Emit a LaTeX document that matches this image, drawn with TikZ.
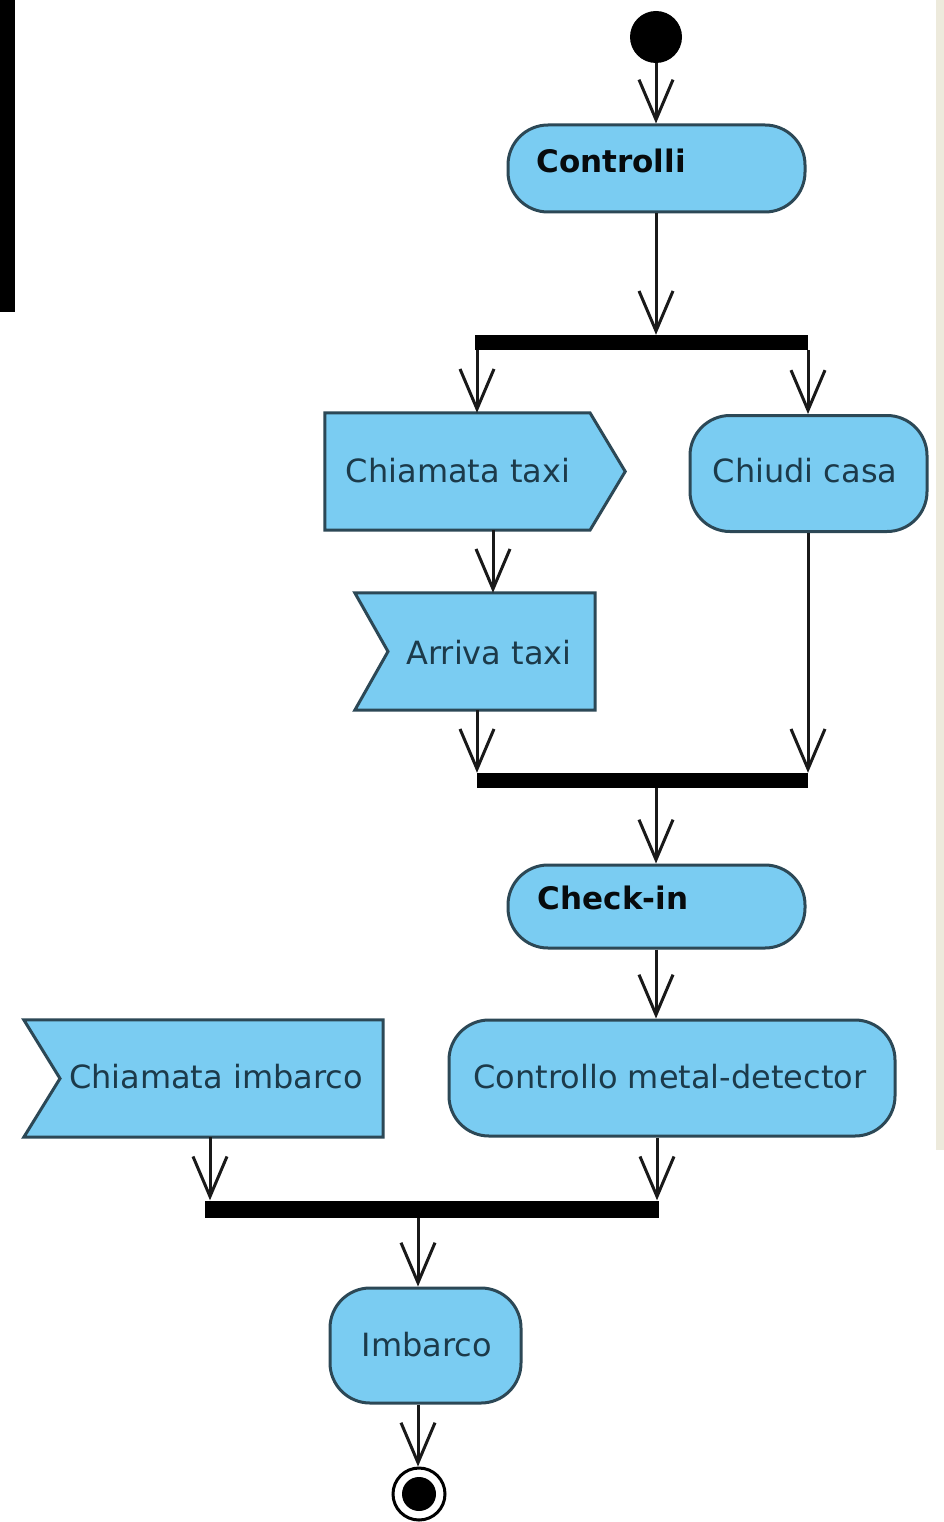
\documentclass[tikz,border=0pt]{standalone}
\usepackage{fontspec}
\setmainfont{DejaVu Sans}
\usetikzlibrary{arrows.meta}
\definecolor{actfill}{RGB}{122,204,242}
\definecolor{actline}{RGB}{44,72,86}
\definecolor{acttext}{RGB}{28,58,74}
\definecolor{stripbeige}{RGB}{237,234,220}
\begin{document}
\begin{tikzpicture}[x=1pt,y=-1pt,
  act/.style={draw=actline, fill=actfill, line width=3pt, rounded corners=40pt, inner sep=0pt},
  evtbox/.style={inner sep=0pt, draw=none},
  evtshape/.style={draw=actline, fill=actfill, line width=3pt},
  barnode/.style={fill=black, draw=none, inner sep=0pt},
  flow/.style={draw=black!90, line width=3pt, -{Straight Barb[length=40pt,width=34pt]}},
  lbl/.style={text=acttext, font=\fontsize{32}{38}\selectfont, inner sep=0pt},
  blbl/.style={text=black!85!actline, font=\bfseries\fontsize{31}{37}\selectfont, inner sep=0pt}
]
\useasboundingbox (0,0) rectangle (944,1522);
\fill[white] (0,0) rectangle (944,1522);
\fill[black] (0,0) rectangle (15,312);
\fill[stripbeige] (936,0) rectangle (944,1150);

% nodes
\node[circle, fill=black, minimum size=52pt, inner sep=0pt] (init) at (656,37) {};
\node[act, minimum width=297pt, minimum height=87pt] (ctrl) at (656.5,168.5) {};
\node[blbl] (lctrl) at (611,161) {Controlli};
\node[barnode, minimum width=333pt, minimum height=15pt] (f1) at (641.5,342.5) {};

\node[evtbox, minimum width=300pt, minimum height=117pt] (ct) at (475,471.5) {};
\draw[evtshape] (ct.north west) -- (590,0 |- ct.north) -- (ct.east) -- (590,0 |- ct.south) -- (ct.south west) -- cycle;
\node[lbl] (lct) at (458,471) {Chiamata taxi};

\node[act, minimum width=237pt, minimum height=116pt] (cc) at (808.5,473.5) {};
\node[lbl] (lcc) at (805,471) {Chiudi casa};

\node[evtbox, minimum width=240pt, minimum height=117pt] (at) at (475,651.5) {};
\draw[evtshape] (at.north west) -- (at.north east) -- (at.south east) -- (at.south west) -- (388,0 |- at.west) -- cycle;
\node[lbl] (lat) at (489,653) {Arriva taxi};

\node[barnode, minimum width=331pt, minimum height=15pt] (f2) at (642.5,780.5) {};

\node[act, minimum width=297pt, minimum height=83pt] (chk) at (656.5,906.5) {};
\node[blbl] (lchk) at (613,898) {Check-in};

\node[act, minimum width=446pt, minimum height=116pt] (cmd) at (672,1078) {};
\node[lbl] (lcmd) at (670,1077) {Controllo metal-detector};

\node[evtbox, minimum width=359pt, minimum height=117pt] (ci) at (203.5,1078.5) {};
\draw[evtshape] (ci.north west) -- (ci.north east) -- (ci.south east) -- (ci.south west) -- (60,0 |- ci.west) -- cycle;
\node[lbl] (lci) at (216,1077) {Chiamata imbarco};

\node[barnode, minimum width=454pt, minimum height=17pt] (f3) at (432,1209) {};

\node[act, minimum width=191pt, minimum height=115pt] (imb) at (425.5,1345.5) {};
\node[lbl] (limb) at (427,1345) {Imbarco};

\node[circle, draw=black, line width=3pt, minimum size=52pt, inner sep=0pt] (fin) at (419,1494) {};
\node[circle, fill=black, minimum size=34pt, inner sep=0pt] (fincore) at (fin) {};

% connectors
\draw[flow] (656,0 |- init.south) -- (656,0 |- ctrl.north);
\draw[flow] (656,0 |- ctrl.south) -- (656,0 |- f1.north);
\draw[flow] (477,0 |- f1.south) -- (477,0 |- ct.north);
\draw[flow] (808,0 |- f1.south) -- (808,0 |- cc.north);
\draw[flow] (493,0 |- ct.south) -- (493,0 |- at.north);
\draw[flow] (477,0 |- at.south) -- (477,0 |- f2.north);
\draw[flow] (808,0 |- cc.south) -- (808,0 |- f2.north);
\draw[flow] (656,0 |- f2.south) -- (656,0 |- chk.north);
\draw[flow] (656,0 |- chk.south) -- (656,0 |- cmd.north);
\draw[flow] (210,0 |- ci.south) -- (210,0 |- f3.north);
\draw[flow] (657,0 |- cmd.south) -- (657,0 |- f3.north);
\draw[flow] (418,0 |- f3.south) -- (418,0 |- imb.north);
\draw[flow] (418,0 |- imb.south) -- (418,0 |- fin.north);
\end{tikzpicture}
\end{document}
